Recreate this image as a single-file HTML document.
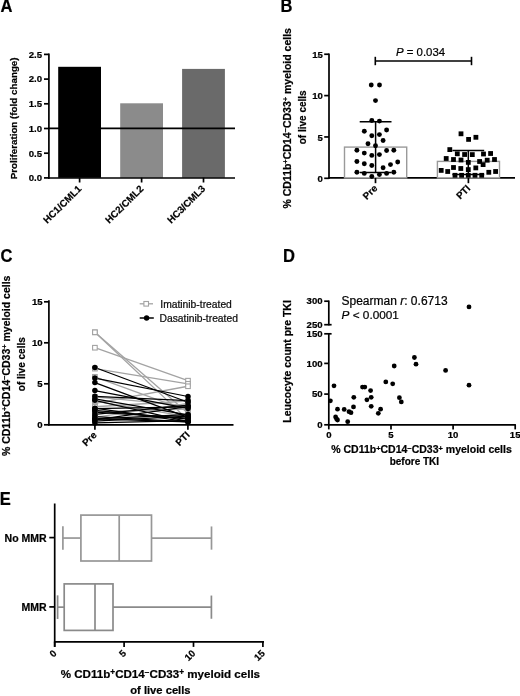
<!DOCTYPE html>
<html><head><meta charset="utf-8"><style>
html,body{margin:0;padding:0;background:#fff;}
body{width:520px;height:696px;overflow:hidden;}
svg{display:block;font-family:"Liberation Sans", sans-serif;will-change:transform;}
</style></head><body>
<svg width="520" height="696" viewBox="0 0 520 696" font-family='"Liberation Sans", sans-serif'>
<style>text{stroke:currentColor;stroke-width:0.22px;}</style>
<text transform="translate(0.4 11.9) scale(0.94 1)" font-size="17.6" font-weight="bold">A</text>
<line x1="48.9" y1="53.6" x2="48.9" y2="178.8" stroke="#000" stroke-width="1.7" />
<line x1="44" y1="54.4" x2="48.9" y2="54.4" stroke="#000" stroke-width="1.7" />
<text x="42.0" y="57.699999999999996" font-size="9.6" font-weight="bold" text-anchor="end" fill="#000" >2.5</text>
<line x1="44" y1="79.1" x2="48.9" y2="79.1" stroke="#000" stroke-width="1.7" />
<text x="42.0" y="82.39999999999999" font-size="9.6" font-weight="bold" text-anchor="end" fill="#000" >2.0</text>
<line x1="44" y1="103.8" x2="48.9" y2="103.8" stroke="#000" stroke-width="1.7" />
<text x="42.0" y="107.1" font-size="9.6" font-weight="bold" text-anchor="end" fill="#000" >1.5</text>
<line x1="44" y1="128.5" x2="48.9" y2="128.5" stroke="#000" stroke-width="1.7" />
<text x="42.0" y="131.8" font-size="9.6" font-weight="bold" text-anchor="end" fill="#000" >1.0</text>
<line x1="44" y1="153.2" x2="48.9" y2="153.2" stroke="#000" stroke-width="1.7" />
<text x="42.0" y="156.5" font-size="9.6" font-weight="bold" text-anchor="end" fill="#000" >0.5</text>
<line x1="44" y1="177.9" x2="48.9" y2="177.9" stroke="#000" stroke-width="1.7" />
<text x="42.0" y="181.20000000000002" font-size="9.6" font-weight="bold" text-anchor="end" fill="#000" >0.0</text>
<rect x="58.2" y="66.8" width="42.8" height="111" fill="#000"/>
<rect x="120.2" y="103.3" width="42.8" height="74.5" fill="#8b8b8b"/>
<rect x="182.1" y="68.9" width="42.8" height="108.9" fill="#6a6a6a"/>
<line x1="48" y1="128.4" x2="235" y2="128.4" stroke="#000" stroke-width="1.9" />
<line x1="48" y1="178.0" x2="235" y2="178.0" stroke="#000" stroke-width="1.7" />
<line x1="79.6" y1="177.7" x2="79.6" y2="182.5" stroke="#000" stroke-width="1.7" />
<line x1="141.6" y1="177.7" x2="141.6" y2="182.5" stroke="#000" stroke-width="1.7" />
<line x1="203.5" y1="177.7" x2="203.5" y2="182.5" stroke="#000" stroke-width="1.7" />
<text x="82.0" y="189.4" font-size="9.8" font-weight="bold" text-anchor="end" fill="#000" transform="rotate(-45 82.0 189.4)" >HC1/CML1</text>
<text x="144.0" y="189.4" font-size="9.8" font-weight="bold" text-anchor="end" fill="#000" transform="rotate(-45 144.0 189.4)" >HC2/CML2</text>
<text x="205.9" y="189.4" font-size="9.8" font-weight="bold" text-anchor="end" fill="#000" transform="rotate(-45 205.9 189.4)" >HC3/CML3</text>
<text x="16.9" y="118.4" font-size="9.8" font-weight="bold" text-anchor="middle" fill="#000" transform="rotate(-90 16.9 118.4)" >Proliferation (fold change)</text>
<text transform="translate(280.6 11.9) scale(0.94 1)" font-size="17.6" font-weight="bold">B</text>
<line x1="329" y1="53.5" x2="329" y2="179" stroke="#000" stroke-width="1.7" />
<line x1="324.2" y1="54.250000000000014" x2="329" y2="54.250000000000014" stroke="#000" stroke-width="1.7" />
<text x="322.8" y="57.850000000000016" font-size="9.6" font-weight="bold" text-anchor="end" fill="#000" >15</text>
<line x1="324.2" y1="95.60000000000002" x2="329" y2="95.60000000000002" stroke="#000" stroke-width="1.7" />
<text x="322.8" y="99.20000000000002" font-size="9.6" font-weight="bold" text-anchor="end" fill="#000" >10</text>
<line x1="324.2" y1="136.95000000000002" x2="329" y2="136.95000000000002" stroke="#000" stroke-width="1.7" />
<text x="322.8" y="140.55" font-size="9.6" font-weight="bold" text-anchor="end" fill="#000" >5</text>
<line x1="324.2" y1="178.3" x2="329" y2="178.3" stroke="#000" stroke-width="1.7" />
<text x="322.8" y="181.9" font-size="9.6" font-weight="bold" text-anchor="end" fill="#000" >0</text>
<line x1="328.2" y1="177.9" x2="515" y2="177.9" stroke="#000" stroke-width="1.7" />
<rect x="344.5" y="147.1" width="62.2" height="30.8" fill="#fff" stroke="#9a9a9a" stroke-width="1.4"/>
<rect x="437.4" y="161.4" width="62.1" height="16.5" fill="#fff" stroke="#9a9a9a" stroke-width="1.4"/>
<line x1="375.5" y1="177.9" x2="375.5" y2="183.2" stroke="#000" stroke-width="1.7" />
<line x1="468.4" y1="177.9" x2="468.4" y2="183.2" stroke="#000" stroke-width="1.7" />
<text x="378.0" y="189.0" font-size="9.8" font-weight="bold" text-anchor="end" fill="#000" transform="rotate(-45 378.0 189.0)" >Pre</text>
<text x="471.0" y="189.0" font-size="9.8" font-weight="bold" text-anchor="end" fill="#000" transform="rotate(-45 471.0 189.0)" >PTI</text>
<line x1="375.3" y1="56.8" x2="375.3" y2="65.2" stroke="#000" stroke-width="1.6" />
<line x1="471.5" y1="56.8" x2="471.5" y2="65.2" stroke="#000" stroke-width="1.6" />
<line x1="375.3" y1="61.0" x2="471.5" y2="61.0" stroke="#000" stroke-width="1.6" />
<text x="396" y="56.1" font-size="11.4" fill="#000"><tspan font-style="italic">P</tspan> = 0.034</text>
<line x1="375.6" y1="121.7" x2="375.6" y2="172.6" stroke="#000" stroke-width="1.5" />
<line x1="359.7" y1="121.7" x2="391.5" y2="121.7" stroke="#000" stroke-width="1.5" />
<line x1="359.7" y1="172.6" x2="391.5" y2="172.6" stroke="#000" stroke-width="1.5" />
<line x1="468.3" y1="150.4" x2="468.3" y2="174.6" stroke="#000" stroke-width="1.5" />
<line x1="452.4" y1="150.4" x2="484.2" y2="150.4" stroke="#000" stroke-width="1.5" />
<line x1="452.4" y1="174.6" x2="484.2" y2="174.6" stroke="#000" stroke-width="1.5" />
<circle cx="371.25" cy="85" r="2.45" fill="#000"/>
<circle cx="379.5" cy="85" r="2.45" fill="#000"/>
<circle cx="375.5" cy="100.6" r="2.45" fill="#000"/>
<circle cx="371.8" cy="120.5" r="2.45" fill="#000"/>
<circle cx="379.4" cy="121.1" r="2.45" fill="#000"/>
<circle cx="364.3" cy="131.2" r="2.45" fill="#000"/>
<circle cx="386.6" cy="130" r="2.45" fill="#000"/>
<circle cx="371.8" cy="135.7" r="2.45" fill="#000"/>
<circle cx="379.4" cy="134.6" r="2.45" fill="#000"/>
<circle cx="383.1" cy="140.5" r="2.45" fill="#000"/>
<circle cx="368" cy="143.8" r="2.45" fill="#000"/>
<circle cx="375.5" cy="145.7" r="2.45" fill="#000"/>
<circle cx="356.9" cy="150.3" r="2.45" fill="#000"/>
<circle cx="364.3" cy="153.1" r="2.45" fill="#000"/>
<circle cx="371.8" cy="155.4" r="2.45" fill="#000"/>
<circle cx="379.4" cy="154.6" r="2.45" fill="#000"/>
<circle cx="386.6" cy="150.5" r="2.45" fill="#000"/>
<circle cx="393.8" cy="150.2" r="2.45" fill="#000"/>
<circle cx="356.9" cy="161.5" r="2.45" fill="#000"/>
<circle cx="364.3" cy="163.7" r="2.45" fill="#000"/>
<circle cx="371.8" cy="165.5" r="2.45" fill="#000"/>
<circle cx="383.1" cy="167.8" r="2.45" fill="#000"/>
<circle cx="390.5" cy="164.6" r="2.45" fill="#000"/>
<circle cx="397.7" cy="162" r="2.45" fill="#000"/>
<circle cx="356.9" cy="172.3" r="2.45" fill="#000"/>
<circle cx="364.3" cy="173.4" r="2.45" fill="#000"/>
<circle cx="371.8" cy="176.5" r="2.45" fill="#000"/>
<circle cx="379.4" cy="174.6" r="2.45" fill="#000"/>
<circle cx="386.6" cy="173.4" r="2.45" fill="#000"/>
<circle cx="393.8" cy="172.3" r="2.45" fill="#000"/>
<rect x="458.60" y="131.40" width="4.8" height="4.8" fill="#000"/>
<rect x="466.20" y="137.00" width="4.8" height="4.8" fill="#000"/>
<rect x="473.50" y="134.90" width="4.8" height="4.8" fill="#000"/>
<rect x="447.40" y="147.20" width="4.8" height="4.8" fill="#000"/>
<rect x="454.90" y="151.40" width="4.8" height="4.8" fill="#000"/>
<rect x="462.20" y="152.10" width="4.8" height="4.8" fill="#000"/>
<rect x="469.90" y="152.20" width="4.8" height="4.8" fill="#000"/>
<rect x="481.10" y="151.60" width="4.8" height="4.8" fill="#000"/>
<rect x="488.20" y="151.10" width="4.8" height="4.8" fill="#000"/>
<rect x="443.80" y="156.10" width="4.8" height="4.8" fill="#000"/>
<rect x="451.10" y="157.10" width="4.8" height="4.8" fill="#000"/>
<rect x="458.60" y="157.60" width="4.8" height="4.8" fill="#000"/>
<rect x="465.90" y="160.00" width="4.8" height="4.8" fill="#000"/>
<rect x="477.20" y="159.10" width="4.8" height="4.8" fill="#000"/>
<rect x="480.70" y="162.20" width="4.8" height="4.8" fill="#000"/>
<rect x="484.80" y="157.80" width="4.8" height="4.8" fill="#000"/>
<rect x="492.10" y="157.10" width="4.8" height="4.8" fill="#000"/>
<rect x="451.10" y="165.10" width="4.8" height="4.8" fill="#000"/>
<rect x="458.40" y="166.10" width="4.8" height="4.8" fill="#000"/>
<rect x="465.90" y="167.20" width="4.8" height="4.8" fill="#000"/>
<rect x="438.80" y="168.00" width="4.8" height="4.8" fill="#000"/>
<rect x="445.30" y="169.10" width="4.8" height="4.8" fill="#000"/>
<rect x="473.40" y="165.50" width="4.8" height="4.8" fill="#000"/>
<rect x="486.40" y="169.90" width="4.8" height="4.8" fill="#000"/>
<rect x="493.20" y="169.10" width="4.8" height="4.8" fill="#000"/>
<rect x="452.60" y="172.90" width="4.8" height="4.8" fill="#000"/>
<rect x="459.20" y="172.90" width="4.8" height="4.8" fill="#000"/>
<rect x="465.90" y="172.90" width="4.8" height="4.8" fill="#000"/>
<rect x="472.60" y="172.90" width="4.8" height="4.8" fill="#000"/>
<rect x="479.30" y="172.90" width="4.8" height="4.8" fill="#000"/>
<text x="290.8" y="118.3" font-size="10.5" font-weight="bold" text-anchor="middle" transform="rotate(-90 290.8 118.3)">% CD11b<tspan dy="-2.4" font-size="7.4">+</tspan><tspan dy="2.4">CD14</tspan><tspan dy="-2.4" font-size="7.4">−</tspan><tspan dy="2.4">CD33</tspan><tspan dy="-2.4" font-size="7.4">+</tspan><tspan dy="2.4"> myeloid cells</tspan></text>
<text x="306.2" y="117.3" font-size="10" font-weight="bold" text-anchor="middle" fill="#000" transform="rotate(-90 306.2 117.3)" >of live cells</text>
<text transform="translate(0.4 262.3) scale(0.94 1)" font-size="17.6" font-weight="bold">C</text>
<line x1="48.9" y1="300.3" x2="48.9" y2="425.6" stroke="#000" stroke-width="1.7" />
<line x1="44" y1="301.8" x2="48.9" y2="301.8" stroke="#000" stroke-width="1.7" />
<text x="42.6" y="305.0" font-size="9.6" font-weight="bold" text-anchor="end" fill="#000" >15</text>
<line x1="44" y1="342.8" x2="48.9" y2="342.8" stroke="#000" stroke-width="1.7" />
<text x="42.6" y="346.0" font-size="9.6" font-weight="bold" text-anchor="end" fill="#000" >10</text>
<line x1="44" y1="383.8" x2="48.9" y2="383.8" stroke="#000" stroke-width="1.7" />
<text x="42.6" y="387.0" font-size="9.6" font-weight="bold" text-anchor="end" fill="#000" >5</text>
<line x1="44" y1="424.8" x2="48.9" y2="424.8" stroke="#000" stroke-width="1.7" />
<text x="42.6" y="428.0" font-size="9.6" font-weight="bold" text-anchor="end" fill="#000" >0</text>
<line x1="48.1" y1="424.8" x2="233.5" y2="424.8" stroke="#000" stroke-width="1.7" />
<line x1="94.9" y1="424.8" x2="94.9" y2="429.7" stroke="#000" stroke-width="1.7" />
<line x1="187.9" y1="424.8" x2="187.9" y2="429.7" stroke="#000" stroke-width="1.7" />
<text x="97.4" y="435.6" font-size="9.8" font-weight="bold" text-anchor="end" fill="#000" transform="rotate(-45 97.4 435.6)" >Pre</text>
<text x="190.4" y="435.6" font-size="9.8" font-weight="bold" text-anchor="end" fill="#000" transform="rotate(-45 190.4 435.6)" >PTI</text>
<line x1="94.9" y1="332.30400000000003" x2="188.0" y2="419.88" stroke="#a3a3a3" stroke-width="1.3" />
<line x1="94.9" y1="332.30400000000003" x2="188.0" y2="413.32" stroke="#a3a3a3" stroke-width="1.3" />
<line x1="94.9" y1="347.72" x2="188.0" y2="380.684" stroke="#a3a3a3" stroke-width="1.3" />
<line x1="94.9" y1="368.63" x2="188.0" y2="383.8" stroke="#a3a3a3" stroke-width="1.3" />
<line x1="94.9" y1="376.83000000000004" x2="188.0" y2="410.86" stroke="#a3a3a3" stroke-width="1.3" />
<line x1="94.9" y1="403.48" x2="188.0" y2="386.26" stroke="#a3a3a3" stroke-width="1.3" />
<line x1="94.9" y1="396.92" x2="188.0" y2="405.94" stroke="#a3a3a3" stroke-width="1.3" />
<line x1="94.9" y1="406.76" x2="188.0" y2="401.02000000000004" stroke="#a3a3a3" stroke-width="1.3" />
<line x1="94.9" y1="411.68" x2="188.0" y2="409.22" stroke="#a3a3a3" stroke-width="1.3" />
<line x1="94.9" y1="419.88" x2="188.0" y2="414.14" stroke="#a3a3a3" stroke-width="1.3" />
<line x1="94.9" y1="401.02000000000004" x2="188.0" y2="416.6" stroke="#a3a3a3" stroke-width="1.3" />
<line x1="94.9" y1="417.42" x2="188.0" y2="403.48" stroke="#a3a3a3" stroke-width="1.3" />
<line x1="94.9" y1="367.482" x2="188.0" y2="402.25" stroke="#000" stroke-width="1.25" />
<line x1="94.9" y1="378.06" x2="188.0" y2="396.51" stroke="#000" stroke-width="1.25" />
<line x1="94.9" y1="382.57" x2="188.0" y2="417.42" stroke="#000" stroke-width="1.25" />
<line x1="94.9" y1="390.606" x2="188.0" y2="408.40000000000003" stroke="#000" stroke-width="1.25" />
<line x1="94.9" y1="396.346" x2="188.0" y2="400.528" stroke="#000" stroke-width="1.25" />
<line x1="94.9" y1="398.88800000000003" x2="188.0" y2="414.96000000000004" stroke="#000" stroke-width="1.25" />
<line x1="94.9" y1="400.36400000000003" x2="188.0" y2="421.52000000000004" stroke="#000" stroke-width="1.25" />
<line x1="94.9" y1="408.154" x2="188.0" y2="421.848" stroke="#000" stroke-width="1.25" />
<line x1="94.9" y1="408.646" x2="188.0" y2="406.76" stroke="#000" stroke-width="1.25" />
<line x1="94.9" y1="410.286" x2="188.0" y2="419.06" stroke="#000" stroke-width="1.25" />
<line x1="94.9" y1="412.09000000000003" x2="188.0" y2="418.076" stroke="#000" stroke-width="1.25" />
<line x1="94.9" y1="414.386" x2="188.0" y2="405.202" stroke="#000" stroke-width="1.25" />
<line x1="94.9" y1="418.814" x2="188.0" y2="414.55" stroke="#000" stroke-width="1.25" />
<line x1="94.9" y1="418.814" x2="188.0" y2="421.848" stroke="#000" stroke-width="1.25" />
<line x1="94.9" y1="419.962" x2="188.0" y2="406.678" stroke="#000" stroke-width="1.25" />
<line x1="94.9" y1="421.11" x2="188.0" y2="416.19" stroke="#000" stroke-width="1.25" />
<line x1="94.9" y1="422.99600000000004" x2="188.0" y2="420.7" stroke="#000" stroke-width="1.25" />
<line x1="94.9" y1="416.6" x2="188.0" y2="421.848" stroke="#000" stroke-width="1.25" />
<rect x="92.60" y="330.00" width="4.6" height="4.6" fill="#fff" stroke="#a3a3a3" stroke-width="1.1"/>
<rect x="185.70" y="417.58" width="4.6" height="4.6" fill="#fff" stroke="#a3a3a3" stroke-width="1.1"/>
<rect x="92.60" y="330.00" width="4.6" height="4.6" fill="#fff" stroke="#a3a3a3" stroke-width="1.1"/>
<rect x="185.70" y="411.02" width="4.6" height="4.6" fill="#fff" stroke="#a3a3a3" stroke-width="1.1"/>
<rect x="92.60" y="345.42" width="4.6" height="4.6" fill="#fff" stroke="#a3a3a3" stroke-width="1.1"/>
<rect x="185.70" y="378.38" width="4.6" height="4.6" fill="#fff" stroke="#a3a3a3" stroke-width="1.1"/>
<rect x="92.60" y="366.33" width="4.6" height="4.6" fill="#fff" stroke="#a3a3a3" stroke-width="1.1"/>
<rect x="185.70" y="381.50" width="4.6" height="4.6" fill="#fff" stroke="#a3a3a3" stroke-width="1.1"/>
<rect x="92.60" y="374.53" width="4.6" height="4.6" fill="#fff" stroke="#a3a3a3" stroke-width="1.1"/>
<rect x="185.70" y="408.56" width="4.6" height="4.6" fill="#fff" stroke="#a3a3a3" stroke-width="1.1"/>
<rect x="92.60" y="401.18" width="4.6" height="4.6" fill="#fff" stroke="#a3a3a3" stroke-width="1.1"/>
<rect x="185.70" y="383.96" width="4.6" height="4.6" fill="#fff" stroke="#a3a3a3" stroke-width="1.1"/>
<rect x="92.60" y="394.62" width="4.6" height="4.6" fill="#fff" stroke="#a3a3a3" stroke-width="1.1"/>
<rect x="185.70" y="403.64" width="4.6" height="4.6" fill="#fff" stroke="#a3a3a3" stroke-width="1.1"/>
<rect x="92.60" y="404.46" width="4.6" height="4.6" fill="#fff" stroke="#a3a3a3" stroke-width="1.1"/>
<rect x="185.70" y="398.72" width="4.6" height="4.6" fill="#fff" stroke="#a3a3a3" stroke-width="1.1"/>
<rect x="92.60" y="409.38" width="4.6" height="4.6" fill="#fff" stroke="#a3a3a3" stroke-width="1.1"/>
<rect x="185.70" y="406.92" width="4.6" height="4.6" fill="#fff" stroke="#a3a3a3" stroke-width="1.1"/>
<rect x="92.60" y="417.58" width="4.6" height="4.6" fill="#fff" stroke="#a3a3a3" stroke-width="1.1"/>
<rect x="185.70" y="411.84" width="4.6" height="4.6" fill="#fff" stroke="#a3a3a3" stroke-width="1.1"/>
<rect x="92.60" y="398.72" width="4.6" height="4.6" fill="#fff" stroke="#a3a3a3" stroke-width="1.1"/>
<rect x="185.70" y="414.30" width="4.6" height="4.6" fill="#fff" stroke="#a3a3a3" stroke-width="1.1"/>
<rect x="92.60" y="415.12" width="4.6" height="4.6" fill="#fff" stroke="#a3a3a3" stroke-width="1.1"/>
<rect x="185.70" y="401.18" width="4.6" height="4.6" fill="#fff" stroke="#a3a3a3" stroke-width="1.1"/>
<circle cx="94.9" cy="367.48" r="2.75" fill="#000"/>
<circle cx="188.0" cy="402.25" r="2.75" fill="#000"/>
<circle cx="94.9" cy="378.06" r="2.75" fill="#000"/>
<circle cx="188.0" cy="396.51" r="2.75" fill="#000"/>
<circle cx="94.9" cy="382.57" r="2.75" fill="#000"/>
<circle cx="188.0" cy="417.42" r="2.75" fill="#000"/>
<circle cx="94.9" cy="390.61" r="2.75" fill="#000"/>
<circle cx="188.0" cy="408.40" r="2.75" fill="#000"/>
<circle cx="94.9" cy="396.35" r="2.75" fill="#000"/>
<circle cx="188.0" cy="400.53" r="2.75" fill="#000"/>
<circle cx="94.9" cy="398.89" r="2.75" fill="#000"/>
<circle cx="188.0" cy="414.96" r="2.75" fill="#000"/>
<circle cx="94.9" cy="400.36" r="2.75" fill="#000"/>
<circle cx="188.0" cy="421.52" r="2.75" fill="#000"/>
<circle cx="94.9" cy="408.15" r="2.75" fill="#000"/>
<circle cx="188.0" cy="421.85" r="2.75" fill="#000"/>
<circle cx="94.9" cy="408.65" r="2.75" fill="#000"/>
<circle cx="188.0" cy="406.76" r="2.75" fill="#000"/>
<circle cx="94.9" cy="410.29" r="2.75" fill="#000"/>
<circle cx="188.0" cy="419.06" r="2.75" fill="#000"/>
<circle cx="94.9" cy="412.09" r="2.75" fill="#000"/>
<circle cx="188.0" cy="418.08" r="2.75" fill="#000"/>
<circle cx="94.9" cy="414.39" r="2.75" fill="#000"/>
<circle cx="188.0" cy="405.20" r="2.75" fill="#000"/>
<circle cx="94.9" cy="418.81" r="2.75" fill="#000"/>
<circle cx="188.0" cy="414.55" r="2.75" fill="#000"/>
<circle cx="94.9" cy="418.81" r="2.75" fill="#000"/>
<circle cx="188.0" cy="421.85" r="2.75" fill="#000"/>
<circle cx="94.9" cy="419.96" r="2.75" fill="#000"/>
<circle cx="188.0" cy="406.68" r="2.75" fill="#000"/>
<circle cx="94.9" cy="421.11" r="2.75" fill="#000"/>
<circle cx="188.0" cy="416.19" r="2.75" fill="#000"/>
<circle cx="94.9" cy="423.00" r="2.75" fill="#000"/>
<circle cx="188.0" cy="420.70" r="2.75" fill="#000"/>
<circle cx="94.9" cy="416.60" r="2.75" fill="#000"/>
<circle cx="188.0" cy="421.85" r="2.75" fill="#000"/>
<line x1="139.7" y1="303.8" x2="153" y2="303.8" stroke="#a3a3a3" stroke-width="1.3" />
<rect x="143.9" y="301.5" width="4.6" height="4.6" fill="#fff" stroke="#a3a3a3" stroke-width="1.1"/>
<line x1="139.7" y1="318" x2="153.8" y2="318" stroke="#000" stroke-width="1.5" />
<circle cx="146.6" cy="318" r="2.7" fill="#000"/>
<text x="160.3" y="307.6" font-size="10.3" font-weight="normal" text-anchor="start" fill="#111" >Imatinib-treated</text>
<text x="159.5" y="321.8" font-size="10.3" font-weight="normal" text-anchor="start" fill="#111" >Dasatinib-treated</text>
<text x="9.8" y="365.8" font-size="10.5" font-weight="bold" text-anchor="middle" transform="rotate(-90 9.8 365.8)">% CD11b<tspan dy="-2.4" font-size="7.4">+</tspan><tspan dy="2.4">CD14</tspan><tspan dy="-2.4" font-size="7.4">−</tspan><tspan dy="2.4">CD33</tspan><tspan dy="-2.4" font-size="7.4">+</tspan><tspan dy="2.4"> myeloid cells</tspan></text>
<text x="25.0" y="364.2" font-size="10" font-weight="bold" text-anchor="middle" fill="#000" transform="rotate(-90 25.0 364.2)" >of live cells</text>
<text transform="translate(283.0 262.4) scale(0.94 1)" font-size="17.6" font-weight="bold">D</text>
<line x1="328.8" y1="300.5" x2="328.8" y2="325.4" stroke="#000" stroke-width="1.7" />
<line x1="328.8" y1="333.1" x2="328.8" y2="425.6" stroke="#000" stroke-width="1.7" />
<line x1="324.2" y1="301.2" x2="328.8" y2="301.2" stroke="#000" stroke-width="1.7" />
<text x="322.6" y="304.4" font-size="9.6" font-weight="bold" text-anchor="end" fill="#000" >300</text>
<line x1="324.2" y1="324.7" x2="331.6" y2="324.7" stroke="#000" stroke-width="1.7" />
<text x="322.6" y="327.9" font-size="9.6" font-weight="bold" text-anchor="end" fill="#000" >250</text>
<line x1="324.2" y1="333.8" x2="331.6" y2="333.8" stroke="#000" stroke-width="1.7" />
<text x="322.6" y="337.0" font-size="9.6" font-weight="bold" text-anchor="end" fill="#000" >150</text>
<line x1="324.2" y1="363.40000000000003" x2="328.8" y2="363.40000000000003" stroke="#000" stroke-width="1.7" />
<text x="322.6" y="366.6" font-size="9.6" font-weight="bold" text-anchor="end" fill="#000" >100</text>
<line x1="324.2" y1="394.1" x2="328.8" y2="394.1" stroke="#000" stroke-width="1.7" />
<text x="322.6" y="397.3" font-size="9.6" font-weight="bold" text-anchor="end" fill="#000" >50</text>
<line x1="324.2" y1="424.8" x2="328.8" y2="424.8" stroke="#000" stroke-width="1.7" />
<text x="322.6" y="428.0" font-size="9.6" font-weight="bold" text-anchor="end" fill="#000" >0</text>
<line x1="328" y1="424.8" x2="515.9" y2="424.8" stroke="#000" stroke-width="1.7" />
<line x1="328.8" y1="424.8" x2="328.8" y2="429.4" stroke="#000" stroke-width="1.7" />
<text x="328.8" y="438.4" font-size="9.6" font-weight="bold" text-anchor="middle" fill="#000" >0</text>
<line x1="391.0" y1="424.8" x2="391.0" y2="429.4" stroke="#000" stroke-width="1.7" />
<text x="391.0" y="438.4" font-size="9.6" font-weight="bold" text-anchor="middle" fill="#000" >5</text>
<line x1="453.1" y1="424.8" x2="453.1" y2="429.4" stroke="#000" stroke-width="1.7" />
<text x="453.1" y="438.4" font-size="9.6" font-weight="bold" text-anchor="middle" fill="#000" >10</text>
<line x1="515.2" y1="424.8" x2="515.2" y2="429.4" stroke="#000" stroke-width="1.7" />
<text x="515.2" y="438.4" font-size="9.6" font-weight="bold" text-anchor="middle" fill="#000" >15</text>
<circle cx="330.4" cy="400.8" r="2.4" fill="#000"/>
<circle cx="334" cy="385.8" r="2.4" fill="#000"/>
<circle cx="337.5" cy="409.2" r="2.4" fill="#000"/>
<circle cx="335.6" cy="416.9" r="2.4" fill="#000"/>
<circle cx="336.5" cy="418.8" r="2.4" fill="#000"/>
<circle cx="337.5" cy="420" r="2.4" fill="#000"/>
<circle cx="344.2" cy="409.4" r="2.4" fill="#000"/>
<circle cx="347.7" cy="421.7" r="2.4" fill="#000"/>
<circle cx="349" cy="411.7" r="2.4" fill="#000"/>
<circle cx="351" cy="412.7" r="2.4" fill="#000"/>
<circle cx="353.5" cy="406.9" r="2.4" fill="#000"/>
<circle cx="353.8" cy="397.3" r="2.4" fill="#000"/>
<circle cx="362.5" cy="387.1" r="2.4" fill="#000"/>
<circle cx="364.8" cy="387.1" r="2.4" fill="#000"/>
<circle cx="366.9" cy="399.8" r="2.4" fill="#000"/>
<circle cx="370.6" cy="390.6" r="2.4" fill="#000"/>
<circle cx="371.2" cy="397.3" r="2.4" fill="#000"/>
<circle cx="371.2" cy="406.3" r="2.4" fill="#000"/>
<circle cx="378.3" cy="413.3" r="2.4" fill="#000"/>
<circle cx="380.6" cy="409.2" r="2.4" fill="#000"/>
<circle cx="385.8" cy="381.9" r="2.4" fill="#000"/>
<circle cx="392.7" cy="383.8" r="2.4" fill="#000"/>
<circle cx="394.2" cy="366" r="2.4" fill="#000"/>
<circle cx="399.4" cy="397.7" r="2.4" fill="#000"/>
<circle cx="401.3" cy="401.9" r="2.4" fill="#000"/>
<circle cx="414.4" cy="357.5" r="2.4" fill="#000"/>
<circle cx="416" cy="364.2" r="2.4" fill="#000"/>
<circle cx="469" cy="306.9" r="2.4" fill="#000"/>
<circle cx="445.6" cy="370.4" r="2.4" fill="#000"/>
<circle cx="469" cy="385.2" r="2.4" fill="#000"/>
<text x="341.5" y="304.5" font-size="12" fill="#000">Spearman <tspan font-style="italic">r</tspan>: 0.6713</text>
<text x="341.5" y="319.2" font-size="11.8" fill="#000"><tspan font-style="italic">P</tspan> &lt; 0.0001</text>
<text x="290.8" y="361.4" font-size="10.5" font-weight="bold" text-anchor="middle" fill="#000" transform="rotate(-90 290.8 361.4)" >Leucocyte count pre TKI</text>
<text x="421.5" y="453.2" font-size="10.5" font-weight="bold" text-anchor="middle">% CD11b<tspan dy="-2.4" font-size="7.4">+</tspan><tspan dy="2.4">CD14</tspan><tspan dy="-2.4" font-size="7.4">−</tspan><tspan dy="2.4">CD33</tspan><tspan dy="-2.4" font-size="7.4">+</tspan><tspan dy="2.4"> myeloid cells</tspan></text>
<text x="414.4" y="464.6" font-size="10" font-weight="bold" text-anchor="middle" fill="#000" >before TKI</text>
<text transform="translate(-0.3 504.6) scale(0.94 1)" font-size="17.6" font-weight="bold">E</text>
<line x1="54.7" y1="503.5" x2="54.7" y2="646.9" stroke="#000" stroke-width="1.7" />
<line x1="53.9" y1="641.8" x2="264" y2="641.8" stroke="#000" stroke-width="1.7" />
<line x1="49.3" y1="537.6" x2="54.7" y2="537.6" stroke="#000" stroke-width="1.7" />
<text x="46.6" y="541.5" font-size="10.5" font-weight="bold" text-anchor="end" fill="#000" >No MMR</text>
<line x1="49.3" y1="606.9" x2="54.7" y2="606.9" stroke="#000" stroke-width="1.7" />
<text x="46.6" y="610.8" font-size="10.5" font-weight="bold" text-anchor="end" fill="#000" >MMR</text>
<line x1="54.7" y1="641.8" x2="54.7" y2="646.9" stroke="#000" stroke-width="1.7" />
<text x="57.300000000000004" y="654.0" font-size="9.6" font-weight="bold" text-anchor="end" fill="#000" transform="rotate(-45 57.300000000000004 654.0)" >0</text>
<line x1="124.10000000000001" y1="641.8" x2="124.10000000000001" y2="646.9" stroke="#000" stroke-width="1.7" />
<text x="126.7" y="654.0" font-size="9.6" font-weight="bold" text-anchor="end" fill="#000" transform="rotate(-45 126.7 654.0)" >5</text>
<line x1="193.5" y1="641.8" x2="193.5" y2="646.9" stroke="#000" stroke-width="1.7" />
<text x="196.1" y="654.0" font-size="9.6" font-weight="bold" text-anchor="end" fill="#000" transform="rotate(-45 196.1 654.0)" >10</text>
<line x1="262.90000000000003" y1="641.8" x2="262.90000000000003" y2="646.9" stroke="#000" stroke-width="1.7" />
<text x="265.50000000000006" y="654.0" font-size="9.6" font-weight="bold" text-anchor="end" fill="#000" transform="rotate(-45 265.50000000000006 654.0)" >15</text>
<rect x="80.9" y="515.1" width="70.6" height="45.89999999999998" fill="none" stroke="#979797" stroke-width="1.7"/>
<line x1="119.2" y1="515.1" x2="119.2" y2="561.0" stroke="#979797" stroke-width="1.7" />
<line x1="62.9" y1="538.05" x2="80.9" y2="538.05" stroke="#979797" stroke-width="1.7" />
<line x1="151.5" y1="538.05" x2="211.5" y2="538.05" stroke="#979797" stroke-width="1.7" />
<line x1="62.9" y1="526.25" x2="62.9" y2="549.8499999999999" stroke="#979797" stroke-width="1.7" />
<line x1="211.5" y1="526.4499999999999" x2="211.5" y2="549.65" stroke="#979797" stroke-width="1.7" />
<rect x="64.2" y="583.9" width="48.8" height="46.5" fill="none" stroke="#8a8a8a" stroke-width="1.7"/>
<line x1="95.0" y1="583.9" x2="95.0" y2="630.4" stroke="#8a8a8a" stroke-width="1.7" />
<line x1="57.6" y1="607.15" x2="64.2" y2="607.15" stroke="#8a8a8a" stroke-width="1.7" />
<line x1="113.0" y1="607.15" x2="211.4" y2="607.15" stroke="#8a8a8a" stroke-width="1.7" />
<line x1="57.6" y1="595.35" x2="57.6" y2="618.9499999999999" stroke="#8a8a8a" stroke-width="1.7" />
<line x1="211.4" y1="595.55" x2="211.4" y2="618.75" stroke="#8a8a8a" stroke-width="1.7" />
<text x="160.4" y="677.8" font-size="11.6" font-weight="bold" text-anchor="middle">% CD11b<tspan dy="-2.6" font-size="8.2">+</tspan><tspan dy="2.6">CD14</tspan><tspan dy="-2.6" font-size="8.2">−</tspan><tspan dy="2.6">CD33</tspan><tspan dy="-2.6" font-size="8.2">+</tspan><tspan dy="2.6"> myeloid cells</tspan></text>
<text x="160.4" y="693.8" font-size="11.2" font-weight="bold" text-anchor="middle" fill="#000" >of live cells</text>
</svg>
</body></html>
